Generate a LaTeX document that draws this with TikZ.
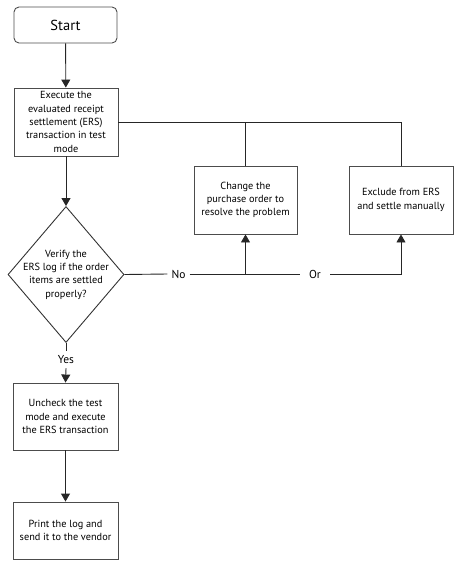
\documentclass[tikz,border=0pt]{standalone}
\usepackage{fontspec}
\setmainfont{PT Sans}
\usetikzlibrary{arrows.meta,shapes.geometric,positioning}
\begin{document}
\begin{tikzpicture}[x=1pt,y=-1pt,
  line/.style={draw=black!85,line width=0.9pt},
  arr/.style={line,-{Triangle[width=9pt,length=8pt]}},
  box/.style={draw=black!70,line width=0.9pt,rectangle,align=center,inner sep=0pt,
    font=\fontsize{10.3}{13.3}\selectfont},
  lbl/.style={inner sep=0pt,font=\fontsize{11.5}{13}\selectfont}
]
\useasboundingbox (0,0) rectangle (461,566);
\node[box,rounded corners=5pt,minimum width=103pt,minimum height=36pt,
  font=\fontsize{14.5}{16}\selectfont] (start) at (65.5,25) {Start};
\node[box,minimum width=104pt,minimum height=68pt] (b1) at (66,122)
  {Execute the\\evaluated receipt\\settlement (ERS)\\transaction in test\\mode};
\node[draw=black!80,line width=0.9pt,diamond,minimum width=116pt,minimum height=136pt,inner sep=0pt] (d) at (66,274.5) {};
\node[box,draw=none,align=center] (dt) at (d.center) {Verify the\\ERS log if the order\\items are settled\\properly?};
\node[box,minimum width=103pt,minimum height=68pt] (b2) at (245.5,200)
  {Change the\\purchase order to\\resolve the problem};
\node[box,minimum width=104pt,minimum height=68pt] (b3) at (401,200)
  {Exclude from ERS\\and settle manually};
\node[box,minimum width=105pt,minimum height=67pt] (b4) at (65.5,416.5)
  {Uncheck the test\\mode and execute\\the ERS transaction};
\node[box,minimum width=105pt,minimum height=57pt] (b5) at (65.5,530.5)
  {Print the log and\\send it to the vendor};
\node[lbl,minimum width=22pt] (no) at (178.5,274) {No};
\node[lbl,minimum width=30pt] (or) at (315,274) {Or};
\node[lbl,minimum height=17pt] (yes) at (66,359.5) {Yes};
\coordinate (j1) at (b2.south |- no);
\coordinate (j0) at (b2.north |- b1.east);

\draw[arr] (start) -- (b1);
\draw[arr] (b1) -- (d);
\draw[line] (b1.east) -| (b3.north);
\draw[line] (j0) -- (b2.north);
\draw[line] (d.east) -- (no.west);
\draw[line] (no.east) -- (or.west);
\draw[arr] (j1) -- (b2.south);
\draw[arr] (or.east) -| (b3.south);
\draw[line] (d.south) -- (yes.north);
\draw[arr] (yes.south) -- (b4.north);
\draw[arr] (b4) -- (b5);
\end{tikzpicture}
\end{document}
